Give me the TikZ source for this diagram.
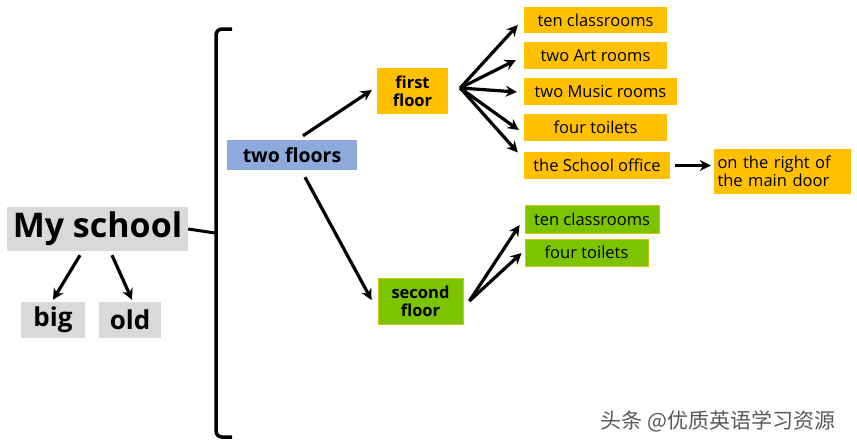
\documentclass[tikz,border=0pt]{standalone}
\usepackage{fontspec}
\setmainfont{Open Sans}
\newfontfamily\cjkfont{Noto Sans CJK SC}
\usepackage{tikz}
\usetikzlibrary{arrows.meta,calc}
\definecolor{boxgray}{HTML}{D9D9D9}
\definecolor{boxblue}{HTML}{8EA9DB}
\definecolor{boxyellow}{HTML}{FFC000}
\definecolor{boxgreen}{HTML}{7CC400}
\newcommand{\twolines}[2]{#1\\#2}

\begin{document}
\begin{tikzpicture}[x=1pt,y=-1pt,
        box/.style={inner sep=0pt,align=center},
        graybox/.style={box,fill=boxgray,font=\bfseries},
        yellowbox/.style={box,fill=boxyellow,font=\fontsize{16.5}{18}\selectfont},
        greenbox/.style={box,fill=boxgreen,draw=boxyellow!70!boxgreen,line width=0.8pt,font=\fontsize{16.5}{18}\selectfont},
        arr/.style={line width=3.2pt,-{Stealth[length=11pt,width=11pt]}}
    ]
    \useasboundingbox (0,0) rectangle (857,445);

    % left part
    \node[graybox,minimum width=181pt,minimum height=44pt,font=\bfseries\fontsize{34}{36}\selectfont]
        (school) at (97.5,229) {My school};
    \node[graybox,minimum width=64pt,minimum height=36pt,font=\bfseries\fontsize{26}{28}\selectfont]
        (big) at (53,320) {big};
    \node[graybox,minimum width=62pt,minimum height=36pt,font=\bfseries\fontsize{26}{28}\selectfont]
        (old) at (130,320) {old};
    \draw[arr] ($(school.south)+(-17.5,4)$) -- ($(big.north)+(0,-2)$);
    \draw[arr] ($(school.south)+(14.5,4)$) -- ($(old.north)+(2,-2)$);

    % bracket
    \coordinate (brtop) at (232,29);
    \coordinate (brbot) at (232,437);
    \draw[line width=3.5pt,rounded corners=6pt] (brtop) -| (216,233) |- (brbot);
    \draw[line width=3pt] (school.east) -- (215,233);

    % floors
    \node[box,fill=boxblue,minimum width=130pt,minimum height=30pt,font=\bfseries\fontsize{19.5}{21}\selectfont]
        (floors) at (292,155) {two floors};
    \node[box,fill=boxyellow,minimum width=71pt,minimum height=46pt,font=\bfseries\fontsize{16.5}{18}\selectfont]
        (first) at (412.5,91) {\twolines{first}{floor}};
    \node[box,fill=boxgreen,draw=boxyellow!70!boxgreen,line width=0.8pt,minimum width=85pt,minimum height=46pt,font=\bfseries\fontsize{16.5}{18}\selectfont]
        (second) at (420.5,301) {\twolines{second}{floor}};
    \draw[arr] ($(floors.north)+(11,-4)$) -- ($(first.west)+(-5,-1)$);
    \draw[arr] ($(floors.south)+(13,7)$) -- ($(second.west)+(-6,-1)$);

    % first floor rooms
    \node[yellowbox,minimum width=143pt,minimum height=26pt] (y1) at (595.5,20) {ten classrooms};
    \node[yellowbox,minimum width=143pt,minimum height=27pt] (y2) at (595.5,55.5) {two Art rooms};
    \node[yellowbox,minimum width=153pt,minimum height=27pt] (y3) at (600.5,91.5) {two Music rooms};
    \node[yellowbox,minimum width=143pt,minimum height=27pt] (y4) at (595.5,127.5) {four toilets};
    \node[yellowbox,minimum width=146pt,minimum height=27pt] (y5) at (597,165.5) {the School office};
    \node[yellowbox,minimum width=137pt,minimum height=45pt,align=left,text width=130pt]
        (door) at (782.5,171.5) {\twolines{on the right of}{the main door}};

    \coordinate (fan1) at ($(first.east)+(12,-3)$);
    \draw[arr] (fan1) -- ($(y1.west)+(-6,5)$);
    \draw[arr] (fan1) -- ($(y2.west)+(-8,4.5)$);
    \draw[arr] (fan1) -- ($(y3.west)+(-7,0.5)$);
    \draw[arr] (fan1) -- ($(y4.west)+(-5,2.5)$);
    \draw[arr] (fan1) -- ($(y5.west)+(-6,-13)$);
    \draw[arr] ($(y5.east)+(5,0)$) -- ($(door.west)+(-3,-6)$);

    % second floor rooms
    \node[greenbox,minimum width=134pt,minimum height=28pt] (g1) at (592,219) {ten classrooms};
    \node[greenbox,minimum width=123pt,minimum height=27pt] (g2) at (586.5,252.5) {four toilets};
    \coordinate (fan2) at ($(second.east)+(6,0)$);
    \draw[arr] (fan2) -- ($(g1.west)+(-5,6)$);
    \draw[arr] (fan2) -- ($(g2.west)+(-3,0.5)$);

    % watermark
    \node[text=gray!70!black,font=\cjkfont\fontsize{21}{23}\selectfont,anchor=west]
        (mark) at (597,421) {头条 @优质英语学习资源};
\end{tikzpicture}
\end{document}
